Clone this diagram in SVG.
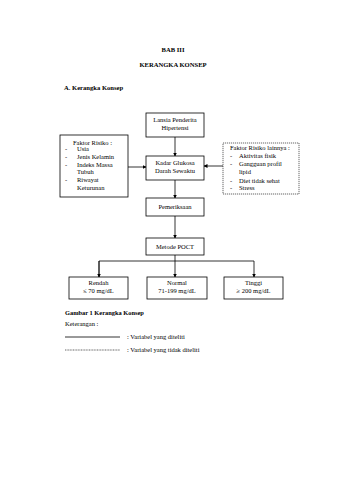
<svg xmlns="http://www.w3.org/2000/svg" width="340" height="480" viewBox="0 0 340 480">
<style>
text{font-family:"Liberation Serif","Times New Roman",serif;font-size:6.5px;fill:#000}
.b{font-weight:bold;font-size:6.6px}
.c{text-anchor:middle}
.box{fill:#fff;stroke:#000;stroke-width:0.8}
.dash{fill:#fff;stroke:#000;stroke-width:0.6;stroke-dasharray:1.2 0.8}
.ln{stroke:#000;stroke-width:0.8;fill:none}
</style>
<defs>
<marker id="ah" markerWidth="4" markerHeight="4" refX="3.5" refY="2" orient="auto" markerUnits="userSpaceOnUse">
<path d="M0,0 L4,2 L0,4 z" fill="#000"/>
</marker>
</defs>
<rect width="340" height="480" fill="#fff"/>
<text class="b c" x="173" y="52">BAB III</text>
<text class="b c" x="173" y="67">KERANGKA KONSEP</text>
<text class="b" x="64" y="90">A.  Kerangka Konsep</text>

<g id="connectors">
<line class="ln" x1="175" y1="137" x2="175" y2="156" marker-end="url(#ah)"/>
<line class="ln" x1="128" y1="167" x2="146" y2="167" marker-end="url(#ah)"/>
<line class="ln" x1="223" y1="166" x2="204" y2="166" marker-end="url(#ah)"/>
<line class="ln" x1="175" y1="180" x2="175" y2="198" marker-end="url(#ah)"/>
<line class="ln" x1="175" y1="216" x2="175" y2="238" marker-end="url(#ah)"/>
<line class="ln" x1="175" y1="255" x2="175" y2="277" marker-end="url(#ah)"/>
<polyline class="ln" points="99,277 99,261 254,261 254,277" marker-end="url(#ah)"/>
<line class="ln" x1="99" y1="261" x2="99" y2="277" marker-end="url(#ah)"/>
</g>

<g id="lansia">
<rect class="box" x="146" y="113" width="58" height="24"/>
<text class="c" x="175" y="122">Lansia Penderita</text>
<text class="c" x="175" y="130">Hipertensi</text>
</g>

<g id="faktor-risiko">
<rect class="box" x="60" y="135" width="68" height="62"/>
<text x="73" y="145">Faktor Risiko :</text>
<text x="65" y="151">-</text><text x="77" y="151">Usia</text>
<text x="65" y="159">-</text><text x="77" y="159">Jenis Kelamin</text>
<text x="65" y="167">-</text><text x="77" y="167">Indeks Massa</text>
<text x="77" y="174">Tubuh</text>
<text x="65" y="182">-</text><text x="77" y="182">Riwayat</text>
<text x="77" y="190">Keturunan</text>
</g>

<g id="kadar">
<rect class="box" x="146" y="156" width="58" height="24"/>
<text class="c" x="175" y="165">Kadar Glukosa</text>
<text class="c" x="175" y="173">Darah Sewaktu</text>
</g>

<g id="faktor-lainnya">
<rect class="dash" x="223" y="143" width="76" height="51"/>
<text x="230" y="150">Faktor Risiko lainnya :</text>
<text x="230" y="158">-</text><text x="239" y="158">Aktivitas fisik</text>
<text x="230" y="166">-</text><text x="239" y="166">Gangguan profil</text>
<text x="239" y="174">lipid</text>
<text x="230" y="183">-</text><text x="239" y="183">Diet tidak sehat</text>
<text x="230" y="190">-</text><text x="239" y="190">Stress</text>
</g>

<g id="pemeriksaan">
<rect class="box" x="146" y="198" width="58" height="18"/>
<text class="c" x="175" y="209">Pemeriksaan</text>
</g>

<g id="metode">
<rect class="box" x="146" y="238" width="58" height="17"/>
<text class="c" x="175" y="248.5">Metode POCT</text>
</g>

<g id="rendah">
<rect class="box" x="69" y="277" width="59" height="22"/>
<text class="c" x="98.5" y="285">Rendah</text>
<text class="c" x="98.5" y="293">≤ 70 mg/dL</text>
</g>

<g id="normal">
<rect class="box" x="147" y="277" width="60" height="22"/>
<text class="c" x="177" y="285">Normal</text>
<text class="c" x="177" y="293">71-199 mg/dL</text>
</g>

<g id="tinggi">
<rect class="box" x="224" y="277" width="59" height="22"/>
<text class="c" x="253.5" y="285">Tinggi</text>
<text class="c" x="253.5" y="293">≥ 200 mg/dL</text>
</g>

<text class="b" x="65" y="315" style="font-size:6.4px">Gambar 1 Kerangka Konsep</text>
<text x="65" y="326">Keterangan :</text>
<line x1="65" y1="337" x2="120" y2="337" stroke="#000" stroke-width="0.8"/>
<text x="127" y="339">: Variabel yang diteliti</text>
<line x1="65" y1="350" x2="120" y2="350" stroke="#000" stroke-width="0.6" stroke-dasharray="1 0.6"/>
<text x="127" y="352">: Variabel yang tidak diteliti</text>
</svg>
